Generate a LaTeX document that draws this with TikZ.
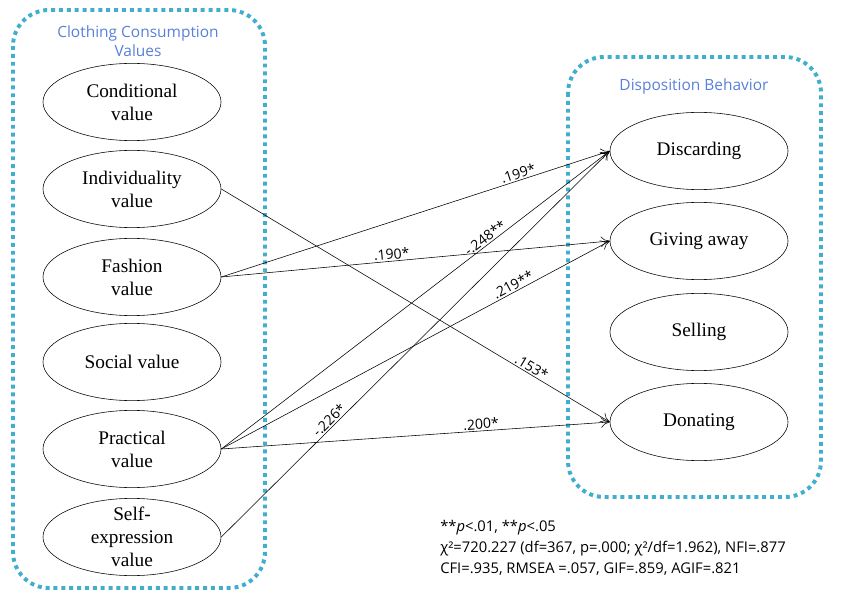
\documentclass[tikz,border=0pt]{standalone}
\usepackage{fontspec}
\setmainfont{Liberation Serif}
\newfontfamily\sansf{Open Sans}
\usetikzlibrary{shapes.geometric,arrows.meta}
\definecolor{boxblue}{RGB}{66,174,206}
\definecolor{titleblue}{RGB}{88,128,218}
\begin{document}
\begin{tikzpicture}[x=0.025cm, y=-0.025cm,
        val/.style={ellipse, draw, thin, minimum width=4.45cm, minimum height=1.93cm, inner sep=0pt, align=center, font=\fontsize{13.7}{16.4}\selectfont},
        group/.style={draw=boxblue, line width=2.8pt, dash pattern=on 2.8pt off 2.8pt, rounded corners=0.9cm},
        grouptitle/.style={text=titleblue, align=center, font=\sansf\fontsize{11}{13.5}\selectfont},
        path/.style={-{To[length=2.2mm,width=2.6mm]}, thin},
        coef/.style={sloped, above, inner sep=1pt, font=\sansf\fontsize{10}{12}\selectfont}]
        \useasboundingbox (0,0) rectangle (841,590);

        % the two groups
        \draw[group] (13,10) rectangle (265,588);
        \draw[group] (568,57) rectangle (821,497);
        \node[grouptitle] (valtitle) at (138,41) {Clothing Consumption\\Values};
        \node[grouptitle] (distitle) at (694,86) {Disposition Behavior};

        % clothing consumption values
        \node[val] (cond) at (132,102) {Conditional\\value};
        \node[val] (indiv) at (132,189) {Individuality\\value};
        \node[val] (fash) at (132,277) {Fashion\\value};
        \node[val] (social) at (132,362) {Social value};
        \node[val] (pract) at (132,449) {Practical\\value};
        \node[val, inner ysep=-0.2cm] (self) at (132,537) {Self-\\expression\\value};

        % disposition behavior
        \node[val] (disc) at (699,151) {Discarding};
        \node[val] (give) at (699,241) {Giving away};
        \node[val] (sell) at (699,332) {Selling};
        \node[val] (don) at (699,422) {Donating};

        % paths
        \draw[path] (fash.east) -- node[coef, pos=0.77] {.199*} (disc.west);
        \draw[path] (fash.east) -- node[coef, pos=0.44] {.190*} (give.west);
        \draw[path] (pract.east) -- node[coef, pos=0.69] {-.248**} (disc.west);
        \draw[path] (self.east) -- node[coef, pos=0.29] {-.226*} (disc.west);
        \draw[path] (pract.east) -- node[coef, pos=0.76] {.219**} (give.west);
        \draw[path] (pract.east) -- node[coef, pos=0.67] {.200*} (don.west);
        \draw[path] (indiv.east) -- node[coef, pos=0.79] {.153*} (don.west);

        % fit indices
        \node[anchor=north west, align=left, inner sep=0pt, font=\sansf\fontsize{10.5}{15}\selectfont] (fit) at (440,520)
            {**\textit{p}<.01, **\textit{p}<.05\\
             χ²=720.227 (df=367, p=.000; χ²/df=1.962), NFI=.877\\
             CFI=.935, RMSEA =.057, GIF=.859, AGIF=.821};
    \end{tikzpicture}
\end{document}
